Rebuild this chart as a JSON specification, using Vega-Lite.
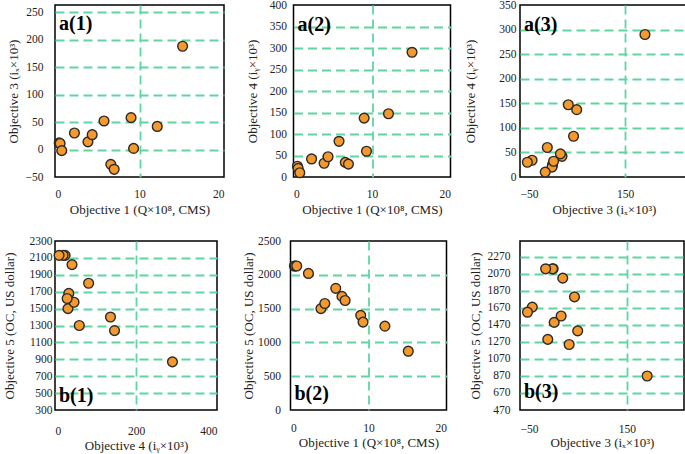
{
  "$schema": "https://vega.github.io/schema/vega-lite/v6.json",
  "background": "white",
  "padding": {"left": 2, "top": -2, "right": 0, "bottom": 0},
  "data": {"values": [
    {"Q": 0.5, "ix": 12, "iy": 25, "OC": 2130},
    {"Q": 0.6, "ix": 11, "iy": 20, "OC": 2130},
    {"Q": 0.8, "ix": -2, "iy": 10, "OC": 2130},
    {"Q": 2.3, "ix": 30, "iy": 42, "OC": 2020},
    {"Q": 3.9, "ix": 14, "iy": 32, "OC": 1500},
    {"Q": 4.4, "ix": 27, "iy": 47, "OC": 1575},
    {"Q": 5.8, "ix": 52, "iy": 83, "OC": 1800},
    {"Q": 6.6, "ix": -27, "iy": 34, "OC": 1680},
    {"Q": 7.0, "ix": -36, "iy": 30, "OC": 1620},
    {"Q": 9.0, "ix": 58, "iy": 137, "OC": 1400},
    {"Q": 9.3, "ix": 2, "iy": 60, "OC": 1300},
    {"Q": 12.1, "ix": 42, "iy": 147, "OC": 1240},
    {"Q": 15.1, "ix": 188, "iy": 290, "OC": 870}
  ]},
  "config": {
    "font": "Liberation Serif",
    "view": {"stroke": "#000", "strokeWidth": 1.5},
    "axis": {"grid": true, "gridColor": "#5FD6A2", "gridDash": [9, 5], "gridWidth": 1.8, "domain": false, "ticks": false, "format": "d",
      "labelFont": "Liberation Serif", "labelFontSize": 11.5, "labelColor": "#222",
      "titleFont": "Liberation Serif", "titleFontSize": 13, "titleFontWeight": "normal", "titleColor": "#222"},
    "title": {"font": "Liberation Serif", "fontSize": 20, "fontWeight": "bold", "color": "#000", "anchor": "start", "frame": "group"}
  },
  "columns": 1,
  "align": "none",
  "spacing": 16,
  "concat": [
    {
      "bounds": "flush",
      "spacing": 69.5,
      "hconcat": [
        {
          "width": 169, "height": 172,
          "title": {"text": "a(1)", "orient": "top", "offset": -29, "dx": 4},
          "mark": {"type": "circle", "size": 95, "fill": "#F5992D", "stroke": "#2a2a2a", "strokeWidth": 1.4, "opacity": 1},
          "encoding": {
            "x": {"field": "Q", "type": "quantitative", "scale": {"domain": [0, 20], "nice": false, "zero": false},
              "axis": {"values": [0, 10, 20], "format": "d", "title": "Objective 1 (Q×10⁸, CMS)", "labelPadding": 11, "titlePadding": 4,
                "gridOpacity": {"condition": {"test": "datum.value <= 0 || datum.value >= 20", "value": 0}, "value": 1}}},
            "y": {"field": "ix", "type": "quantitative", "scale": {"domain": [-50, 263], "nice": false, "zero": false},
              "axis": {"values": [-50, 0, 50, 100, 150, 200, 250], "format": "d", "title": "Objective 3 (iₓ×10³)", "labelPadding": 12, "titlePadding": 5,
                "gridOpacity": {"condition": {"test": "datum.value <= -50", "value": 0}, "value": 1}}}
          }
        },
        {
          "width": 157, "height": 172,
          "title": {"text": "a(2)", "orient": "top", "offset": -36, "dx": 4},
          "mark": {"type": "circle", "size": 95, "fill": "#F5992D", "stroke": "#2a2a2a", "strokeWidth": 1.4, "opacity": 1},
          "encoding": {
            "x": {"field": "Q", "type": "quantitative", "scale": {"domain": [0, 20], "nice": false, "zero": false},
              "axis": {"values": [0, 10, 20], "format": "d", "title": "Objective 1 (Q×10⁸, CMS)", "labelPadding": 11, "titlePadding": 4,
                "gridOpacity": {"condition": {"test": "datum.value <= 0 || datum.value >= 20", "value": 0}, "value": 1}}},
            "y": {"field": "iy", "type": "quantitative", "scale": {"domain": [0, 400], "nice": false, "zero": false},
              "axis": {"values": [0, 50, 100, 150, 200, 250, 300, 350, 400], "format": "d", "title": "Objective 4 (iᵧ×10³)", "labelPadding": 7, "titlePadding": 10,
                "gridOpacity": {"condition": {"test": "datum.value <= 0 || datum.value >= 400", "value": 0}, "value": 1}}}
          }
        },
        {
          "width": 168, "height": 172,
          "title": {"text": "a(3)", "orient": "top", "offset": -36, "dx": 4},
          "mark": {"type": "circle", "size": 95, "fill": "#F5992D", "stroke": "#2a2a2a", "strokeWidth": 1.4, "opacity": 1},
          "encoding": {
            "x": {"field": "ix", "type": "quantitative", "scale": {"domain": [-50, 270], "nice": false, "zero": false},
              "axis": {"values": [-50, 150], "format": "d", "title": "Objective 3 (iₓ×10³)", "labelPadding": 11, "titlePadding": 4,
                "gridOpacity": {"condition": {"test": "datum.value <= -50", "value": 0}, "value": 1}}},
            "y": {"field": "iy", "type": "quantitative", "scale": {"domain": [0, 350], "nice": false, "zero": false},
              "axis": {"values": [0, 50, 100, 150, 200, 250, 300, 350], "format": "d", "title": "Objective 4 (iᵧ×10³)", "labelPadding": 4, "titlePadding": 21,
                "gridOpacity": {"condition": {"test": "datum.value <= 0 || datum.value >= 350", "value": 0}, "value": 1}}}
          }
        }
      ]
    },
    {
      "bounds": "flush",
      "spacing": 73.5,
      "hconcat": [
        {
          "width": 162, "height": 169,
          "title": {"text": "b(1)", "orient": "bottom", "offset": -67, "dx": 4},
          "mark": {"type": "circle", "size": 95, "fill": "#F5992D", "stroke": "#2a2a2a", "strokeWidth": 1.4, "opacity": 1},
          "encoding": {
            "x": {"field": "iy", "type": "quantitative", "scale": {"domain": [0, 400], "nice": false, "zero": false},
              "axis": {"values": [0, 200, 400], "format": "d", "title": "Objective 4 (iᵧ×10³)", "labelPadding": 15, "titlePadding": 3,
                "gridOpacity": {"condition": {"test": "datum.value <= 0 || datum.value >= 400", "value": 0}, "value": 1}}},
            "y": {"field": "OC", "type": "quantitative", "scale": {"domain": [300, 2300], "nice": false, "zero": false},
              "axis": {"values": [300, 500, 700, 900, 1100, 1300, 1500, 1700, 1900, 2100, 2300], "format": "d", "title": "Objective 5 (OC, US dollar)", "labelPadding": 3, "titlePadding": 13,
                "gridOpacity": {"condition": {"test": "datum.value <= 300 || datum.value >= 2300", "value": 0}, "value": 1}}}
          }
        },
        {
          "width": 156, "height": 169,
          "title": {"text": "b(2)", "orient": "bottom", "offset": -66, "dx": 4},
          "mark": {"type": "circle", "size": 95, "fill": "#F5992D", "stroke": "#2a2a2a", "strokeWidth": 1.4, "opacity": 1},
          "encoding": {
            "x": {"field": "Q", "type": "quantitative", "scale": {"domain": [0, 20], "nice": false, "zero": false},
              "axis": {"values": [0, 10, 20], "format": "d", "title": "Objective 1 (Q×10⁸, CMS)", "labelPadding": 12, "titlePadding": 3,
                "gridOpacity": {"condition": {"test": "datum.value <= 0 || datum.value >= 20", "value": 0}, "value": 1}}},
            "y": {"field": "OC", "type": "quantitative", "scale": {"domain": [0, 2500], "nice": false, "zero": false},
              "axis": {"values": [0, 500, 1000, 1500, 2000, 2500], "format": "d", "title": "Objective 5 (OC, US dollar)", "labelPadding": 10, "titlePadding": 2,
                "gridOpacity": {"condition": {"test": "datum.value <= 0 || datum.value >= 2500", "value": 0}, "value": 1}}}
          }
        },
        {
          "width": 164, "height": 169,
          "title": {"text": "b(3)", "orient": "bottom", "offset": -68, "dx": 4},
          "mark": {"type": "circle", "size": 95, "fill": "#F5992D", "stroke": "#2a2a2a", "strokeWidth": 1.4, "opacity": 1},
          "encoding": {
            "x": {"field": "ix", "type": "quantitative", "scale": {"domain": [-50, 257], "nice": false, "zero": false},
              "axis": {"values": [-50, 150], "format": "d", "title": "Objective 3 (iₓ×10³)", "labelPadding": 13, "titlePadding": 2,
                "gridOpacity": {"condition": {"test": "datum.value <= -50", "value": 0}, "value": 1}}},
            "y": {"field": "OC", "type": "quantitative", "scale": {"domain": [470, 2457], "nice": false, "zero": false},
              "axis": {"values": [470, 670, 870, 1070, 1270, 1470, 1670, 1870, 2070, 2270], "format": "d", "title": "Objective 5 (OC, US dollar)", "labelPadding": 10, "titlePadding": 5,
                "gridOpacity": {"condition": {"test": "datum.value <= 470", "value": 0}, "value": 1}}}
          }
        }
      ]
    }
  ]
}
